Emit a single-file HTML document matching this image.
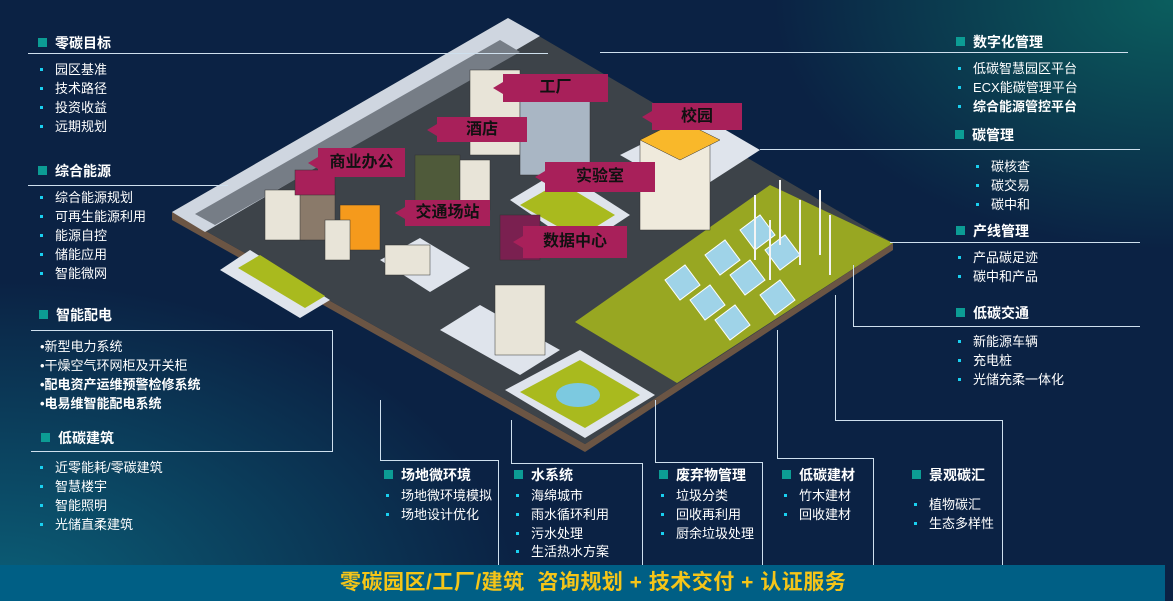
<!DOCTYPE html>
<html><head><meta charset="utf-8">
<style>
*{margin:0;padding:0;box-sizing:border-box}
body{width:1173px;height:601px;overflow:hidden;position:relative;font-family:"Liberation Sans","Noto Sans CJK SC",sans-serif;color:#fff;
background:radial-gradient(ellipse 520px 320px at 0% 100%,#0b6078 0%,rgba(10,90,114,0) 100%),radial-gradient(ellipse 400px 250px at 100% 0%,#0b5e5e 0%,rgba(11,94,94,0) 100%),#0b2244;}
.t{position:absolute;font-size:13px;line-height:19px;white-space:nowrap}
.h{position:absolute;font-size:14px;font-weight:bold;white-space:nowrap;line-height:18px}
.h:before{content:"";position:absolute;left:-17px;top:4px;width:9px;height:9px;background:#0c9c94}
.b:before{content:"";position:absolute;left:-15px;top:8px;width:3px;height:3px;background:#19d0f0}
.ln{position:absolute;background:#cfe0ee}
.lab{position:absolute;background:#a8205a;color:#111;font-weight:bold;font-size:16px;text-align:center}
.lab:before{content:"";position:absolute;left:-10px;top:50%;margin-top:-6px;border-right:10px solid #a8205a;border-top:6px solid transparent;border-bottom:6px solid transparent}
.banner{position:absolute;left:0;top:565px;width:1165px;height:36px;background:#005f85;color:#f5c518;font-weight:bold;font-size:21px;line-height:36px;padding-left:340px;letter-spacing:0.5px}
</style></head><body>
<svg width="1173" height="601" style="position:absolute;left:0;top:0">
<polygon points="172,212 585,444 585,452 172,220" fill="#6b5544"/>
<polygon points="585,444 893,243 893,250 585,452" fill="#6b5544"/>
<polygon points="508,18 893,243 585,444 172,212" fill="#3d4349"/>
<polygon points="508,18 540,36 205,232 172,212" fill="#cfd6e0"/>
<polygon points="500,40 520,52 215,225 195,214" fill="#767d86"/>
<polygon points="770,185 893,243 677,383 575,322" fill="#98a722"/>
<polygon points="250,250 330,300 300,318 220,270" fill="#dfe4ec"/>
<polygon points="260,255 325,296 305,308 238,268" fill="#a9ba1e"/>
<polygon points="505,390 580,350 655,395 585,438" fill="#dfe4ec"/>
<polygon points="520,392 580,360 640,395 585,428" fill="#a9ba1e"/>
<ellipse cx="578" cy="395" rx="22" ry="12" fill="#7cc9e0"/>
<polygon points="510,200 560,170 630,215 580,248" fill="#dfe4ec"/>
<polygon points="520,205 560,182 615,215 578,238" fill="#a9ba1e"/>
<polygon points="620,155 700,115 760,150 690,195" fill="#dfe4ec"/>
<polygon points="380,260 420,238 470,268 430,292" fill="#dfe4ec"/>
<polygon points="440,330 480,305 560,350 520,375" fill="#dfe4ec"/>
<g fill="#e8e4d8" stroke="#333" stroke-width="0.5">
<rect x="470" y="70" width="50" height="85"/><rect x="520" y="95" width="70" height="80" fill="#a9b6c4"/>
<rect x="640" y="140" width="70" height="90" fill="#efeadc"/><polygon points="640,140 680,120 720,140 680,160" fill="#f9b82a"/>
<rect x="415" y="155" width="45" height="60" fill="#4f5a3a"/><rect x="460" y="160" width="30" height="50"/>
<rect x="265" y="190" width="40" height="50"/><rect x="300" y="185" width="35" height="55" fill="#8a7a6a"/>
<rect x="340" y="205" width="40" height="45" fill="#f59a1c"/><rect x="325" y="220" width="25" height="40"/>
<rect x="495" y="285" width="50" height="70"/>
<rect x="385" y="245" width="45" height="30"/>
<rect x="500" y="215" width="40" height="45" fill="#7a2050"/>
<rect x="295" y="170" width="40" height="25" fill="#a8205a"/>
</g>
<g fill="#9fd3e8" stroke="#fff" stroke-width="1">
<polygon points="665,280 685,265 700,285 680,300"/><polygon points="690,300 710,285 725,305 705,320"/>
<polygon points="705,255 725,240 740,260 720,275"/><polygon points="730,275 750,260 765,280 745,295"/>
<polygon points="740,230 760,215 775,235 755,250"/><polygon points="765,250 785,235 800,255 780,270"/>
<polygon points="715,320 735,305 750,325 730,340"/><polygon points="760,295 780,280 795,300 775,315"/>
</g>
<g stroke="#f4f4f4" stroke-width="2">
<line x1="755" y1="195" x2="755" y2="260"/><line x1="780" y1="180" x2="780" y2="245"/><line x1="800" y1="200" x2="800" y2="265"/>
<line x1="820" y1="190" x2="820" y2="255"/><line x1="770" y1="220" x2="770" y2="280"/><line x1="830" y1="215" x2="830" y2="275"/>
</g>
</svg>
<div class="lab" style="left:503px;top:74px;width:105px;height:28px;line-height:28px">工厂</div>
<div class="lab" style="left:652px;top:103px;width:90px;height:27px;line-height:27px">校园</div>
<div class="lab" style="left:437px;top:117px;width:90px;height:25px;line-height:25px">酒店</div>
<div class="lab" style="left:318px;top:148px;width:87px;height:29px;line-height:29px">商业办公</div>
<div class="lab" style="left:545px;top:162px;width:110px;height:30px;line-height:30px">实验室</div>
<div class="lab" style="left:405px;top:200px;width:85px;height:26px;line-height:26px">交通场站</div>
<div class="lab" style="left:523px;top:226px;width:104px;height:32px;line-height:32px">数据中心</div>

<div class="ln" style="left:28px;top:53px;width:520px;height:1px"></div>
<div class="ln" style="left:28px;top:185px;width:200px;height:1px"></div>
<div class="ln" style="left:31px;top:330px;width:302px;height:1px"></div>
<div class="ln" style="left:332px;top:330px;width:1px;height:121px"></div>
<div class="ln" style="left:31px;top:451px;width:302px;height:1px"></div>
<div class="ln" style="left:600px;top:52px;width:528px;height:1px"></div>
<div class="ln" style="left:760px;top:149px;width:380px;height:1px"></div>
<div class="ln" style="left:890px;top:242px;width:250px;height:1px"></div>
<div class="ln" style="left:853px;top:265px;width:1px;height:61px"></div>
<div class="ln" style="left:853px;top:326px;width:287px;height:1px"></div>
<div class="ln" style="left:380px;top:400px;width:1px;height:60px"></div>
<div class="ln" style="left:380px;top:460px;width:118px;height:1px"></div>
<div class="ln" style="left:498px;top:460px;width:1px;height:105px"></div>
<div class="ln" style="left:511px;top:420px;width:1px;height:43px"></div>
<div class="ln" style="left:511px;top:463px;width:131px;height:1px"></div>
<div class="ln" style="left:642px;top:463px;width:1px;height:102px"></div>
<div class="ln" style="left:655px;top:400px;width:1px;height:62px"></div>
<div class="ln" style="left:655px;top:462px;width:107px;height:1px"></div>
<div class="ln" style="left:762px;top:462px;width:1px;height:103px"></div>
<div class="ln" style="left:777px;top:330px;width:1px;height:128px"></div>
<div class="ln" style="left:777px;top:458px;width:96px;height:1px"></div>
<div class="ln" style="left:873px;top:458px;width:1px;height:107px"></div>
<div class="ln" style="left:835px;top:295px;width:1px;height:125px"></div>
<div class="ln" style="left:835px;top:420px;width:167px;height:1px"></div>
<div class="ln" style="left:1002px;top:420px;width:1px;height:145px"></div>

<div class="h" style="left:55px;top:34px">零碳目标</div>
<div class="t b" style="left:55px;top:60px">园区基准</div>
<div class="t b" style="left:55px;top:79px">技术路径</div>
<div class="t b" style="left:55px;top:98px">投资收益</div>
<div class="t b" style="left:55px;top:117px">远期规划</div>
<div class="h" style="left:55px;top:162px">综合能源</div>
<div class="t b" style="left:55px;top:188px">综合能源规划</div>
<div class="t b" style="left:55px;top:207px">可再生能源利用</div>
<div class="t b" style="left:55px;top:226px">能源自控</div>
<div class="t b" style="left:55px;top:245px">储能应用</div>
<div class="t b" style="left:55px;top:264px">智能微网</div>
<div class="h" style="left:56px;top:306px">智能配电</div>
<div class="t" style="left:40px;top:337px">•新型电力系统</div>
<div class="t" style="left:40px;top:356px">•干燥空气环网柜及开关柜</div>
<div class="t" style="left:40px;top:375px;font-weight:bold">•配电资产运维预警检修系统</div>
<div class="t" style="left:40px;top:394px;font-weight:bold">•电易维智能配电系统</div>
<div class="h" style="left:58px;top:429px">低碳建筑</div>
<div class="t b" style="left:55px;top:458px">近零能耗/零碳建筑</div>
<div class="t b" style="left:55px;top:477px">智慧楼宇</div>
<div class="t b" style="left:55px;top:496px">智能照明</div>
<div class="t b" style="left:55px;top:515px">光储直柔建筑</div>

<div class="h" style="left:973px;top:33px">数字化管理</div>
<div class="t b" style="left:973px;top:59px">低碳智慧园区平台</div>
<div class="t b" style="left:973px;top:78px">ECX能碳管理平台</div>
<div class="t b" style="left:973px;top:97px;font-weight:bold">综合能源管控平台</div>
<div class="h" style="left:972px;top:126px">碳管理</div>
<div class="t b" style="left:991px;top:157px">碳核查</div>
<div class="t b" style="left:991px;top:176px">碳交易</div>
<div class="t b" style="left:991px;top:195px">碳中和</div>
<div class="h" style="left:973px;top:222px">产线管理</div>
<div class="t b" style="left:973px;top:248px">产品碳足迹</div>
<div class="t b" style="left:973px;top:267px">碳中和产品</div>
<div class="h" style="left:973px;top:304px">低碳交通</div>
<div class="t b" style="left:973px;top:332px">新能源车辆</div>
<div class="t b" style="left:973px;top:351px">充电桩</div>
<div class="t b" style="left:973px;top:370px">光储充柔一体化</div>

<div class="h" style="left:401px;top:466px">场地微环境</div>
<div class="t b" style="left:401px;top:486px">场地微环境模拟</div>
<div class="t b" style="left:401px;top:505px">场地设计优化</div>
<div class="h" style="left:531px;top:466px">水系统</div>
<div class="t b" style="left:531px;top:486px">海绵城市</div>
<div class="t b" style="left:531px;top:505px">雨水循环利用</div>
<div class="t b" style="left:531px;top:524px">污水处理</div>
<div class="t b" style="left:531px;top:542px">生活热水方案</div>
<div class="h" style="left:676px;top:466px">废弃物管理</div>
<div class="t b" style="left:676px;top:486px">垃圾分类</div>
<div class="t b" style="left:676px;top:505px">回收再利用</div>
<div class="t b" style="left:676px;top:524px">厨余垃圾处理</div>
<div class="h" style="left:799px;top:466px">低碳建材</div>
<div class="t b" style="left:799px;top:486px">竹木建材</div>
<div class="t b" style="left:799px;top:505px">回收建材</div>
<div class="h" style="left:929px;top:466px">景观碳汇</div>
<div class="t b" style="left:929px;top:495px">植物碳汇</div>
<div class="t b" style="left:929px;top:514px">生态多样性</div>

<div class="banner">零碳园区/工厂/建筑&nbsp; 咨询规划 + 技术交付 + 认证服务</div>
</body></html>
